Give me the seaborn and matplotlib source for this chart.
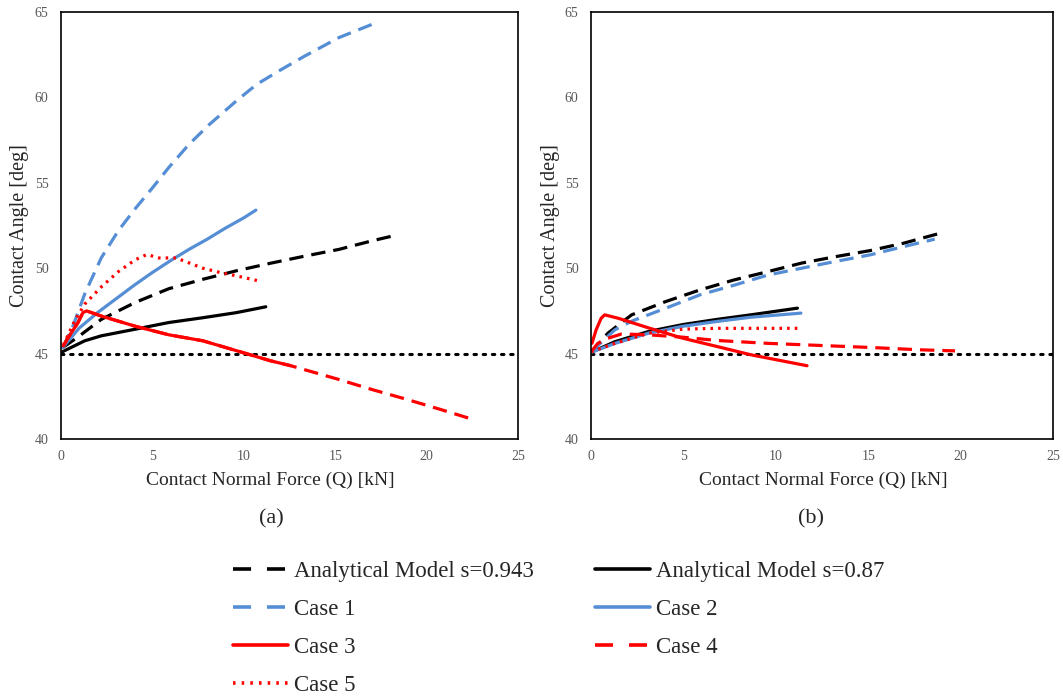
import matplotlib
matplotlib.use("Agg")
import matplotlib.pyplot as plt
import seaborn as sns
from matplotlib.lines import Line2D

sns.set_theme(style="white")
plt.rcParams['font.family'] = ['Liberation Serif', 'DejaVu Serif']

# ---------------- data: panel (a) ----------------
a_am943_x = [0.1, 0.9, 2.2, 4.07, 5.9, 7.76, 9.6, 11.5, 13.3, 15.2, 17.0, 18.2]
a_am943_y = [45.36, 45.95, 47.0, 48.0, 48.8, 49.35, 49.85, 50.3, 50.7, 51.1, 51.6, 51.9]
a_am87_x = [0.0, 1.3, 2.2, 4.07, 5.9, 7.76, 9.6, 11.2]
a_am87_y = [45.07, 45.75, 46.04, 46.43, 46.82, 47.1, 47.4, 47.74]
a_c1_x = [0.1, 0.65, 1.3, 2.2, 3.14, 4.07, 5.0, 5.9, 7.0, 8.1, 9.6, 10.7, 12.0, 13.3, 15.2, 17.0]
a_c1_y = [45.36, 46.6, 48.5, 50.6, 52.2, 53.5, 54.7, 55.9, 57.25, 58.4, 59.8, 60.76, 61.6, 62.4, 63.5, 64.27]
a_c2_x = [0.1, 1.0, 2.0, 3.0, 4.0, 5.0, 6.0, 7.0, 8.0, 9.0, 10.0, 10.66]
a_c2_y = [45.36, 46.5, 47.4, 48.2, 49.0, 49.75, 50.45, 51.1, 51.7, 52.35, 52.95, 53.4]
a_c3_x = [0.13, 0.37, 0.92, 1.2, 1.4, 2.2, 4.07, 5.9, 7.76, 9.6, 11.46, 12.57]
a_c3_y = [45.45, 45.9, 46.8, 47.4, 47.5, 47.2, 46.6, 46.1, 45.75, 45.17, 44.58, 44.29]
a_c4_x = [0.13, 0.37, 0.92, 1.2, 1.4, 2.2, 4.07, 5.9, 7.76, 9.6, 11.46, 12.57, 15.15, 17.0, 18.85, 20.7, 22.46]
a_c4_y = [45.45, 45.9, 46.8, 47.4, 47.5, 47.2, 46.6, 46.1, 45.75, 45.17, 44.58, 44.29, 43.5, 42.9, 42.34, 41.75, 41.17]
a_c5_x = [0.13, 0.74, 1.3, 2.2, 3.14, 4.07, 4.7, 5.36, 6.3, 7.76, 8.7, 9.6, 10.8]
a_c5_y = [45.5, 46.9, 47.9, 48.9, 49.8, 50.5, 50.8, 50.6, 50.6, 50.0, 49.75, 49.55, 49.26]

# ---------------- data: panel (b) ----------------
b_am943_x = [0.0, 0.92, 2.2, 4.05, 5.9, 7.73, 9.57, 11.4, 13.25, 15.1, 16.9, 18.87]
b_am943_y = [45.07, 46.2, 47.27, 48.05, 48.73, 49.31, 49.8, 50.3, 50.68, 51.03, 51.46, 52.04]
b_am87_x = [0.0, 1.3, 3.13, 4.97, 6.8, 8.65, 11.17]
b_am87_y = [45.07, 45.7, 46.3, 46.7, 47.0, 47.27, 47.66]
b_c1_x = [0.0, 1.3, 2.2, 4.05, 5.9, 7.73, 9.57, 11.4, 13.25, 15.1, 16.9, 18.6]
b_c1_y = [45.1, 46.4, 46.9, 47.66, 48.44, 49.0, 49.6, 50.0, 50.4, 50.78, 51.26, 51.7]
b_c2_x = [0.0, 1.3, 3.13, 4.97, 6.8, 8.65, 11.36]
b_c2_y = [45.07, 45.6, 46.2, 46.6, 46.88, 47.13, 47.37]
b_c3_x = [0.05, 0.28, 0.55, 0.74, 1.47, 3.13, 4.97, 6.8, 8.65, 11.69]
b_c3_y = [45.6, 46.4, 47.07, 47.27, 47.07, 46.5, 45.9, 45.42, 44.93, 44.29]
b_c4_x = [0.0, 0.37, 0.92, 1.66, 3.13, 4.97, 6.8, 9.57, 12.33, 15.1, 17.86, 19.7]
b_c4_y = [45.1, 45.6, 45.9, 46.15, 46.1, 45.96, 45.77, 45.6, 45.48, 45.36, 45.22, 45.16]
b_c5_x = [0.0, 1.3, 3.13, 4.97, 6.8, 8.65, 11.4]
b_c5_y = [45.1, 45.6, 46.2, 46.43, 46.48, 46.48, 46.48]

ref_x = [0, 25]
ref_y = [45, 45]

x_ticks = [0, 5, 10, 15, 20, 25]
y_ticks = [40, 45, 50, 55, 60, 65]

BLUE = "#558ED5"
RED = "#FF0000"
BLACK = "#000000"
LW = 2.3
DASH = (0, (4.5, 2.5))
DOT = (0, (0.8, 1.6))

styles = {
    "Analytical Model s=0.943": dict(color=BLACK, linestyle=DASH),
    "Analytical Model s=0.87": dict(color=BLACK, linestyle="-"),
    "Case 1": dict(color=BLUE, linestyle=DASH),
    "Case 2": dict(color=BLUE, linestyle="-"),
    "Case 3": dict(color=RED, linestyle="-"),
    "Case 4": dict(color=RED, linestyle=DASH),
    "Case 5": dict(color=RED, linestyle=DOT),
}

panels = {
    "a": {"Analytical Model s=0.943": (a_am943_x, a_am943_y),
          "Analytical Model s=0.87": (a_am87_x, a_am87_y),
          "Case 1": (a_c1_x, a_c1_y), "Case 2": (a_c2_x, a_c2_y),
          "Case 4": (a_c4_x, a_c4_y), "Case 3": (a_c3_x, a_c3_y),
          "Case 5": (a_c5_x, a_c5_y)},
    "b": {"Analytical Model s=0.943": (b_am943_x, b_am943_y),
          "Analytical Model s=0.87": (b_am87_x, b_am87_y),
          "Case 1": (b_c1_x, b_c1_y), "Case 2": (b_c2_x, b_c2_y),
          "Case 4": (b_c4_x, b_c4_y), "Case 3": (b_c3_x, b_c3_y),
          "Case 5": (b_c5_x, b_c5_y)},
}

W, H = 1063, 699
fig = plt.figure(figsize=(W / 100, H / 100), dpi=100)
# left, top, width, height in pixels
rects = {"a": (61, 12, 457, 427), "b": (591, 12, 462, 427)}
sub_labels = {"a": ("(a)", 271), "b": ("(b)", 811)}
xlabel_cx = {"a": 270, "b": 823}

for key, (l, t, w, h) in rects.items():
    ax = fig.add_axes([l / W, 1 - (t + h) / H, w / W, h / H])
    ax.set_facecolor("white")
    sns.lineplot(x=ref_x, y=ref_y, ax=ax, color=BLACK, lw=2.2,
                 linestyle=(0, (0.8, 2.2)), dash_capstyle="round", sort=False)
    for name, (xs, ys) in panels[key].items():
        st = styles[name]
        sns.lineplot(x=xs, y=ys, ax=ax, lw=LW, sort=False, **st)
    ax.set_xlim(0, 25)
    ax.set_ylim(40, 65)
    ax.set_xticks(x_ticks)
    ax.set_yticks(y_ticks)
    ax.tick_params(axis="x", labelsize=10, length=0, pad=8, labelcolor="#595959")
    ax.tick_params(axis="y", labelsize=10, length=0, pad=9, labelcolor="#595959")
    for sp in ax.spines.values():
        sp.set_color(BLACK)
        sp.set_linewidth(1.2)
    ax.set_xlabel("Contact Normal Force (Q) [kN]", fontsize=14, color="#262626")
    ax.xaxis.set_label_coords((xlabel_cx[key] - l) / w, -(480 - t - h) / h, transform=ax.transAxes)
    ax.xaxis.label.set_va("center")
    ax.set_ylabel("Contact Angle [deg]", fontsize=14.5, color="#262626")
    ax.yaxis.set_label_coords(-(l - (20 if key == "a" else 550)) / w, 0.5, transform=ax.transAxes)
    ax.yaxis.label.set_va("center")
    txt, cx = sub_labels[key]
    fig.text(cx / W, 1 - 519 / H, txt, ha="center", va="center",
             fontsize=16, color="#262626")

order = ["Analytical Model s=0.943", "Case 1", "Case 3", "Case 5",
         "Analytical Model s=0.87", "Case 2", "Case 4"]
LEG_DASH = (0, (5.0, 4.4))
LEG_DOT = (0, (0.7, 1.7))
handles = []
for name in order:
    st = styles[name]
    ls = st["linestyle"]
    if ls == DASH:
        ls = LEG_DASH
    elif ls == DOT:
        ls = LEG_DOT
    handles.append(Line2D([], [], lw=2.6, color=st["color"], linestyle=ls))
leg = fig.legend(handles, order, ncol=2, loc="upper left",
                 bbox_to_anchor=(233 / W, 1 - 561 / H), borderpad=0, borderaxespad=0,
                 frameon=False, fontsize=16.5, handlelength=2.4, handletextpad=0.26,
                 columnspacing=2.66, labelspacing=0.74)
for t_ in leg.get_texts():
    t_.set_color("#262626")

fig.savefig("out.png", dpi=100, facecolor="white")
